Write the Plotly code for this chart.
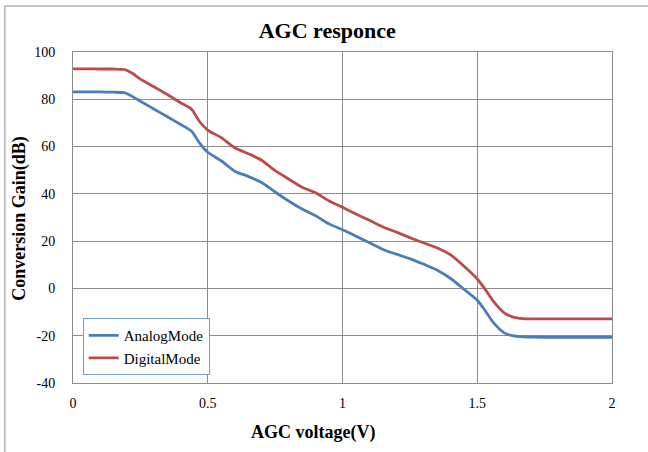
import plotly.graph_objects as go

# AGC control voltage (V)
agc_voltage = [0, 0.05, 0.1, 0.15, 0.19, 0.22, 0.25, 0.3, 0.35, 0.4, 0.44, 0.47,
               0.5, 0.55, 0.6, 0.65, 0.7, 0.75, 0.8, 0.85, 0.9, 0.95, 1.0, 1.05,
               1.1, 1.15, 1.2, 1.25, 1.3, 1.35, 1.4, 1.45, 1.5, 1.53, 1.56, 1.6,
               1.63, 1.67, 1.7, 1.8, 1.9, 2.0]

# Conversion gain (dB) per mode
analog_gain = [83.1, 83.1, 83.1, 83.0, 82.8, 81.2, 79.2, 75.9, 72.6, 69.3, 66.5, 61.5,
               57.6, 54.0, 49.6, 47.4, 44.8, 40.8, 37.0, 33.6, 30.8, 27.3, 24.8, 22.1,
               19.3, 16.5, 14.5, 12.6, 10.3, 7.8, 4.3, -0.3, -5.0, -9.5, -14.5, -18.8,
               -20.0, -20.5, -20.6, -20.7, -20.7, -20.7]
digital_gain = [92.9, 92.9, 92.8, 92.8, 92.6, 91.0, 88.5, 85.3, 82.0, 78.5, 75.8, 70.5,
                67.0, 63.8, 59.5, 57.0, 54.2, 49.8, 46.3, 42.8, 40.5, 37.0, 34.3, 31.5,
                28.8, 26.0, 23.8, 21.5, 19.3, 17.2, 14.3, 9.5, 4.0, -0.5, -5.5, -10.3,
                -12.0, -12.8, -12.9, -12.9, -12.9, -12.9]

x_ticks = [0, 0.5, 1, 1.5, 2]
x_tick_text = ["0", "0.5", "1", "1.5", "2"]
y_ticks = [-40, -20, 0, 20, 40, 60, 80, 100]
y_tick_text = ["-40", "-20", "0", "20", "40", "60", "80", "100"]

SERIF = "Liberation Serif"
GRID = "#8c8c8c"

fig = go.Figure()
fig.add_trace(go.Scatter(
    x=agc_voltage, y=analog_gain, name="AnalogMode", mode="lines",
    line=dict(color="#4a7ebb", width=2.8, shape="spline", smoothing=0.6),
))
fig.add_trace(go.Scatter(
    x=agc_voltage, y=digital_gain, name="DigitalMode", mode="lines",
    line=dict(color="#be4b48", width=2.8, shape="spline", smoothing=0.6),
))

fig.update_layout(
    width=648, height=452,
    margin=dict(l=73, r=36, t=52, b=69, autoexpand=False),
    paper_bgcolor="white", plot_bgcolor="white",
    font=dict(family=SERIF, size=14, color="#000000"),
    title=dict(text="<b>AGC responce</b>", x=0.505, xanchor="center",
               y=0.934, yanchor="middle", font=dict(family=SERIF, size=22)),
    showlegend=True,
    legend=dict(x=0.018, y=0.196, xanchor="left", yanchor="top",
                bgcolor="white", bordercolor="#6f9bd6", borderwidth=1,
                font=dict(family=SERIF, size=15), tracegroupgap=0,
                itemwidth=30),
    xaxis=dict(
        range=[0, 2], tickvals=x_ticks, ticktext=x_tick_text,
        showgrid=True, gridcolor=GRID, gridwidth=1,
        showline=True, linecolor=GRID, linewidth=1, mirror=True,
        zeroline=False, ticks="", ticklabelstandoff=7, automargin=False,
        tickfont=dict(family=SERIF, size=14),
    ),
    yaxis=dict(
        range=[-40, 100], tickvals=y_ticks, ticktext=y_tick_text,
        showgrid=True, gridcolor=GRID, gridwidth=1,
        showline=True, linecolor=GRID, linewidth=1, mirror=True,
        zeroline=False, ticks="", ticklabelstandoff=14, automargin=False,
        tickfont=dict(family=SERIF, size=14),
    ),
    annotations=[
        dict(text="<b>AGC voltage(V)</b>", xref="paper", yref="paper",
             x=0.445, y=-0.150, xanchor="center", yanchor="middle",
             showarrow=False, font=dict(family=SERIF, size=18)),
        dict(text="<b>Conversion Gain(dB)</b>", xref="paper", yref="paper",
             x=-0.099, y=0.498, xanchor="center", yanchor="middle", textangle=-90,
             showarrow=False, font=dict(family=SERIF, size=18)),
    ],
    shapes=[
        # outer chart border
        dict(type="rect", xref="paper", yref="paper",
             x0=-0.1265, x1=1.2, y0=-0.5, y1=1.139,
             line=dict(color="#b5b5b5", width=1.5), fillcolor="rgba(0,0,0,0)", layer="below"),
    ],
)

fig.write_html("out.html")
